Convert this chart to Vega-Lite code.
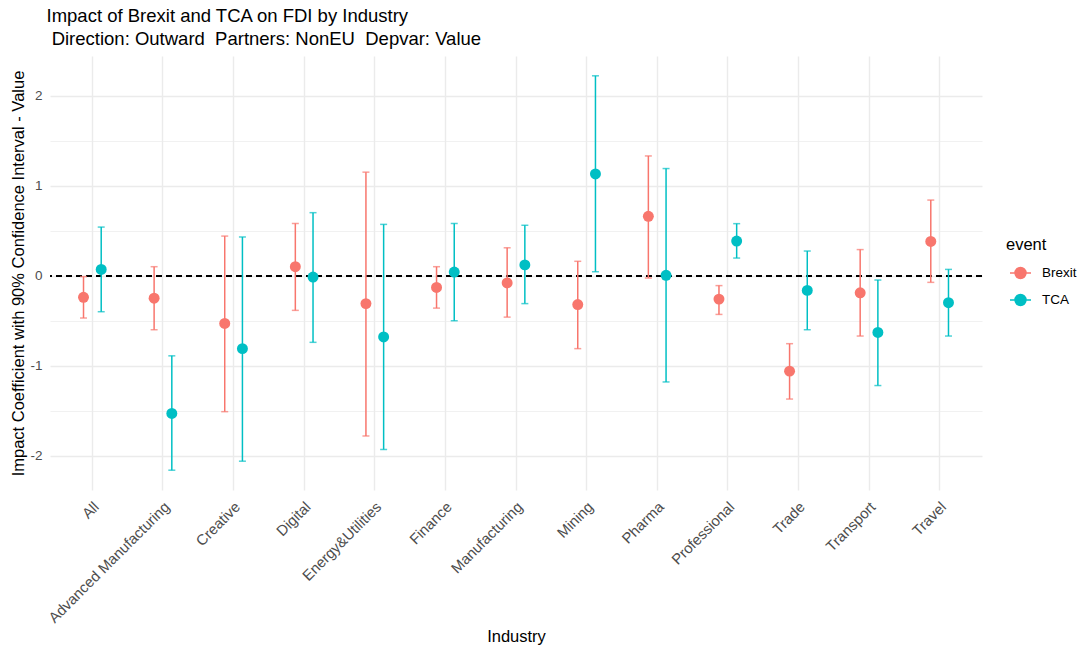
{
  "$schema": "https://vega.github.io/schema/vega-lite/v6.json",
  "autosize": "none",
  "width": 932,
  "height": 434,
  "padding": {"left": 50, "top": 56, "right": 100, "bottom": 160},
  "background": "white",
  "title": {
    "text": ["Impact of Brexit and TCA on FDI by Industry", "\u200b\u00a0Direction: Outward\u00a0 Partners: NonEU\u00a0 Depvar: Value"],
    "anchor": "start",
    "frame": "group",
    "font": "Liberation Sans",
    "fontSize": 18.5,
    "fontWeight": "normal",
    "color": "black",
    "lineHeight": 23,
    "dx": -3.5,
    "offset": 8
  },
  "data": {
    "values": [
      {"industry": "All", "event": "Brexit", "coef": -0.24, "lo": -0.47, "hi": -0.01},
      {"industry": "All", "event": "TCA", "coef": 0.07, "lo": -0.40, "hi": 0.54},
      {"industry": "Advanced Manufacturing", "event": "Brexit", "coef": -0.25, "lo": -0.60, "hi": 0.10},
      {"industry": "Advanced Manufacturing", "event": "TCA", "coef": -1.53, "lo": -2.16, "hi": -0.89},
      {"industry": "Creative", "event": "Brexit", "coef": -0.53, "lo": -1.51, "hi": 0.44},
      {"industry": "Creative", "event": "TCA", "coef": -0.81, "lo": -2.06, "hi": 0.43},
      {"industry": "Digital", "event": "Brexit", "coef": 0.10, "lo": -0.385, "hi": 0.58},
      {"industry": "Digital", "event": "TCA", "coef": -0.015, "lo": -0.74, "hi": 0.70},
      {"industry": "Energy&Utilities", "event": "Brexit", "coef": -0.31, "lo": -1.78, "hi": 1.15},
      {"industry": "Energy&Utilities", "event": "TCA", "coef": -0.68, "lo": -1.93, "hi": 0.57},
      {"industry": "Finance", "event": "Brexit", "coef": -0.13, "lo": -0.36, "hi": 0.10},
      {"industry": "Finance", "event": "TCA", "coef": 0.04, "lo": -0.50, "hi": 0.58},
      {"industry": "Manufacturing", "event": "Brexit", "coef": -0.08, "lo": -0.46, "hi": 0.31},
      {"industry": "Manufacturing", "event": "TCA", "coef": 0.12, "lo": -0.31, "hi": 0.56},
      {"industry": "Mining", "event": "Brexit", "coef": -0.32, "lo": -0.81, "hi": 0.16},
      {"industry": "Mining", "event": "TCA", "coef": 1.13, "lo": 0.044, "hi": 2.22},
      {"industry": "Pharma", "event": "Brexit", "coef": 0.66, "lo": -0.026, "hi": 1.33},
      {"industry": "Pharma", "event": "TCA", "coef": 0.004, "lo": -1.18, "hi": 1.19},
      {"industry": "Professional", "event": "Brexit", "coef": -0.26, "lo": -0.43, "hi": -0.11},
      {"industry": "Professional", "event": "TCA", "coef": 0.385, "lo": 0.196, "hi": 0.578},
      {"industry": "Trade", "event": "Brexit", "coef": -1.06, "lo": -1.37, "hi": -0.755},
      {"industry": "Trade", "event": "TCA", "coef": -0.163, "lo": -0.60, "hi": 0.274},
      {"industry": "Transport", "event": "Brexit", "coef": -0.19, "lo": -0.67, "hi": 0.29},
      {"industry": "Transport", "event": "TCA", "coef": -0.63, "lo": -1.22, "hi": -0.048},
      {"industry": "Travel", "event": "Brexit", "coef": 0.38, "lo": -0.074, "hi": 0.84},
      {"industry": "Travel", "event": "TCA", "coef": -0.30, "lo": -0.67, "hi": 0.07}
    ]
  },
  "encoding": {
    "x": {
      "field": "industry",
      "type": "nominal",
      "sort": ["All", "Advanced Manufacturing", "Creative", "Digital", "Energy&Utilities", "Finance", "Manufacturing", "Mining", "Pharma", "Professional", "Trade", "Transport", "Travel"],
      "scale": {"paddingInner": 0, "paddingOuter": 0.1},
      "title": "Industry",
      "axis": {
        "bandPosition": 0.5,
        "grid": true,
        "gridColor": "#EBEBEB",
        "gridWidth": 1.4,
        "domain": false,
        "ticks": false,
        "tickSize": 0,
        "labelAngle": -45,
        "labelAlign": "right",
        "labelBaseline": "top",
        "labelPadding": 9,
        "labelOffset": -1,
        "labelFont": "Liberation Sans",
        "labelFontSize": 14.8,
        "labelColor": "#4D4D4D",
        "labelOverlap": false,
        "titleFont": "Liberation Sans",
        "titleFontSize": 16.5,
        "titleFontWeight": "normal",
        "titleColor": "black",
        "titlePadding": 3
      }
    },
    "xOffset": {
      "field": "event",
      "type": "nominal",
      "scale": {"type": "point", "range": [26.45, 44.15], "padding": 0}
    },
    "color": {
      "field": "event",
      "type": "nominal",
      "title": "event",
      "scale": {"domain": ["Brexit", "TCA"], "range": ["#F8766D", "#00BFC4"]},
      "legend": {
        "orient": "none",
        "legendX": 956,
        "legendY": 181,
        "padding": 0,
        "symbolType": "M-1,0L1,0M0.52,0A0.52,0.52,0,1,1,-0.52,0A0.52,0.52,0,1,1,0.52,0Z",
        "symbolSize": 441,
        "symbolStrokeWidth": 1.5,
        "symbolOpacity": 1,
        "symbolOffset": 3,
        "labelOffset": 10,
        "rowPadding": 7,
        "titlePadding": 8,
        "titleFont": "Liberation Sans",
        "titleFontSize": 16.5,
        "titleFontWeight": "normal",
        "titleColor": "black",
        "labelFont": "Liberation Sans",
        "labelFontSize": 13.5,
        "labelColor": "black"
      }
    }
  },
  "layer": [
    {
      "mark": {"type": "rule", "color": "black", "strokeWidth": 1.4, "strokeDash": [6, 4]},
      "encoding": {"x": null, "xOffset": null, "color": null, "y": {"datum": 0}}
    },
    {
      "mark": {"type": "rule", "strokeWidth": 1.5},
      "encoding": {
        "y": {
          "field": "lo",
          "type": "quantitative",
          "scale": {"domain": [-2.38, 2.44], "nice": false, "zero": false},
          "title": "Impact Coefficient with 90% Confidence Interval - Value",
          "axis": {
            "values": [-2, -1.5, -1, -0.5, 0, 0.5, 1, 1.5, 2],
            "labelExpr": "datum.value % 1 !== 0 ? '' : (datum.value < 0 ? '-' + abs(datum.value) : '' + datum.value)",
            "grid": true,
            "gridColor": "#EBEBEB",
            "gridWidth": {"condition": {"test": "datum.value % 1 !== 0", "value": 0.7}, "value": 1.4},
            "domain": false,
            "ticks": false,
            "tickSize": 0,
            "labelPadding": 8,
            "labelFont": "Liberation Sans",
            "labelFontSize": 13.5,
            "labelColor": "#4D4D4D",
            "titleFont": "Liberation Sans",
            "titleFontSize": 16.5,
            "titleFontWeight": "normal",
            "titleColor": "black",
            "titlePadding": 3
          }
        },
        "y2": {"field": "hi"}
      }
    },
    {
      "mark": {"type": "tick", "size": 7, "thickness": 1.5, "orient": "horizontal"},
      "encoding": {"y": {"field": "lo", "type": "quantitative"}}
    },
    {
      "mark": {"type": "tick", "size": 7, "thickness": 1.5, "orient": "horizontal"},
      "encoding": {"y": {"field": "hi", "type": "quantitative"}}
    },
    {
      "mark": {"type": "point", "filled": true, "opacity": 1, "size": 120},
      "encoding": {"y": {"field": "coef", "type": "quantitative"}}
    }
  ],
  "config": {
    "view": {"stroke": null},
    "font": "Liberation Sans"
  }
}
